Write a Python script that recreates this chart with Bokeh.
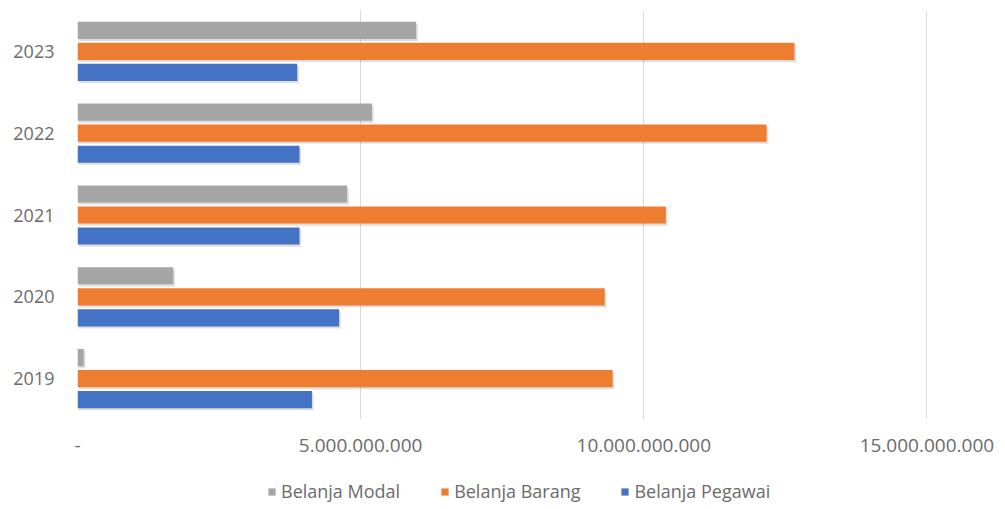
from bokeh.plotting import figure
from bokeh.models import ColumnDataSource, FactorRange, Range1d, FixedTicker, Legend, LegendItem
from bokeh.layouts import column
from bokeh.transform import dodge
from bokeh.embed import file_html
from bokeh.resources import INLINE

years = ["2019", "2020", "2021", "2022", "2023"]
belanja_modal = [0.11e9, 1.69e9, 4.76e9, 5.20e9, 5.98e9]
belanja_barang = [9.45e9, 9.31e9, 10.39e9, 12.17e9, 12.66e9]
belanja_pegawai = [4.14e9, 4.62e9, 3.92e9, 3.92e9, 3.88e9]
tick_values = [0, 5e9, 10e9, 15e9]
tick_labels = ["-", "5.000.000.000", "10.000.000.000", "15.000.000.000"]
series_names = ["Belanja Modal", "Belanja Barang", "Belanja Pegawai"]
series_cols = ["modal", "barang", "pegawai"]
series_colors = ["#A5A5A5", "#ED7D31", "#4472C4"]

src = ColumnDataSource(dict(year=years, modal=belanja_modal, barang=belanja_barang, pegawai=belanja_pegawai))

FONT = "Open Sans"
TXT = "#6b6b6b"

p = figure(width=1005, height=468, y_range=FactorRange(*years), x_range=Range1d(0, 16.3e9),
           output_backend="svg", toolbar_location=None,
           min_border_left=77, min_border_top=10, min_border_right=5, min_border_bottom=49)
p.outline_line_color = None
p.background_fill_color = "white"

h = 0.21
off = 0.257
offsets = [off, 0.0, -off]
for col, d in zip(series_cols, offsets):
    p.hbar(y=dodge("year", d - 0.025, range=p.y_range), right=dodge(col, 0.03e9), left=0.02e9, height=h,
           source=src, fill_color="#000000", fill_alpha=0.13, line_color=None)

for col, d, c in zip(series_cols, offsets, series_colors):
    p.hbar(y=dodge("year", d, range=p.y_range), right=col, left=0, height=h, source=src,
           fill_color=c, line_color=None)

p.xaxis.ticker = FixedTicker(ticks=tick_values)
p.xaxis.major_label_overrides = {v: l for v, l in zip(tick_values, tick_labels)}
p.xaxis.axis_line_color = None
p.xaxis.major_tick_line_color = None
p.xaxis.minor_tick_line_color = None
p.xaxis.major_label_text_font = FONT
p.xaxis.major_label_text_font_size = "19px"
p.xaxis.major_label_text_color = TXT
p.xaxis.major_label_standoff = 13

p.yaxis.axis_line_color = None
p.yaxis.major_tick_line_color = None
p.yaxis.major_label_text_font = FONT
p.yaxis.major_label_text_font_size = "18px"
p.yaxis.major_label_text_color = TXT
p.yaxis.major_label_standoff = 17

p.ygrid.grid_line_color = None
p.xgrid.grid_line_color = "#D9D9D9"
p.xgrid.grid_line_width = 1

# legend strip: same series with zero-height bars, so only the legend shows
p2 = figure(width=1005, height=41, y_range=FactorRange(*years), x_range=Range1d(-2e9, -1e9),
            output_backend="svg", toolbar_location=None, x_axis_location=None, y_axis_location=None,
            min_border_left=0, min_border_right=0, min_border_top=0, min_border_bottom=0)
p2.outline_line_color = None
p2.grid.visible = False
items = []
for name, col, c in zip(series_names, series_cols, series_colors):
    r = p2.hbar(y="year", right=col, left=0, height=0, source=src, fill_color=c, line_color=None)
    items.append(LegendItem(label=name, renderers=[r]))

legend = Legend(items=items, orientation="horizontal", location=(190, 6),
                label_text_font=FONT, label_text_font_size="18px", label_text_color=TXT,
                glyph_width=9, glyph_height=9, spacing=40, label_standoff=5,
                border_line_color=None, background_fill_alpha=0, margin=0, padding=0)
p2.add_layout(legend, "center")

open("out.html", "w").write(file_html(column(p, p2, spacing=0), INLINE))
